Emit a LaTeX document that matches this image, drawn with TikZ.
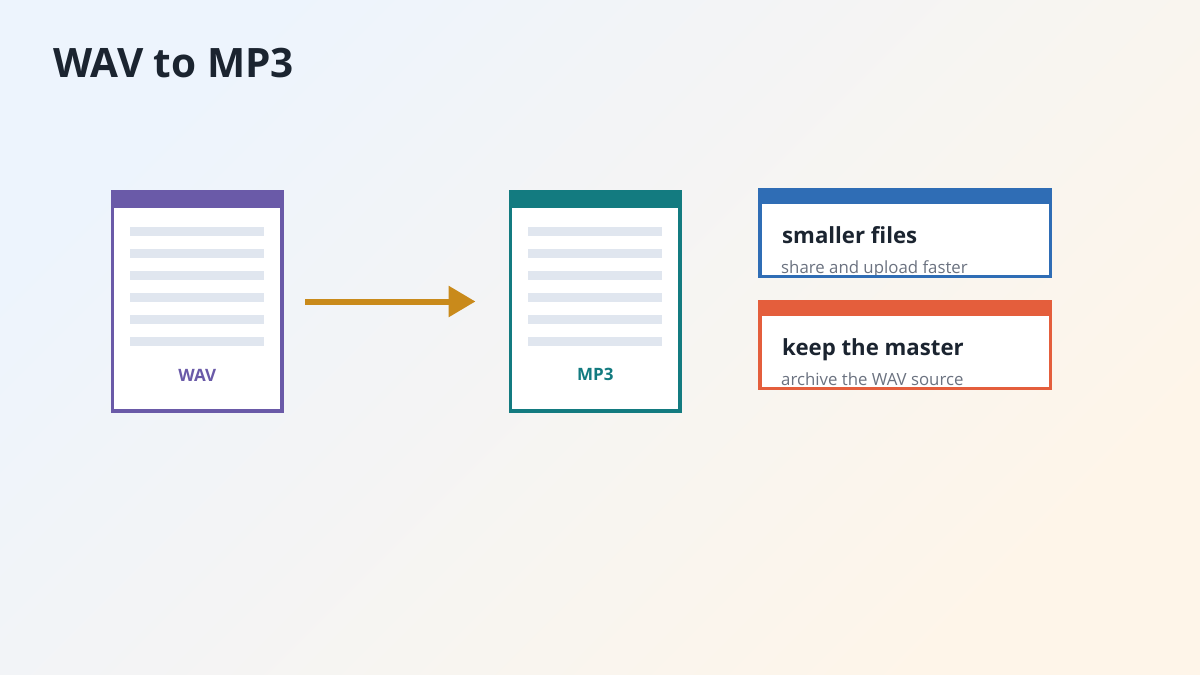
\documentclass[tikz,border=0pt]{standalone}
\usepackage{fontspec}
\setmainfont{Open Sans}
\usetikzlibrary{arrows.meta,calc}
\definecolor{bgA}{HTML}{EDF4FD}
\definecolor{bgM}{HTML}{F4F5F6}
\definecolor{bgB}{HTML}{FEF5E9}
\definecolor{wavc}{HTML}{6A5AA8}
\definecolor{mpc}{HTML}{137B80}
\definecolor{arrc}{HTML}{C98A1B}
\definecolor{bluec}{HTML}{2F6DB5}
\definecolor{orc}{HTML}{E45E3C}
\definecolor{txtd}{HTML}{1B2430}
\definecolor{txtg}{HTML}{6B7280}
\definecolor{linec}{HTML}{E0E6EF}
\tikzset{
  docbox/.style={draw=#1, line width=3.5pt, fill=white, minimum width=169.5pt, minimum height=219pt, inner sep=0pt, outer sep=0pt},
  cardbox/.style={fill=white, minimum width=290.5pt, minimum height=86.5pt, inner sep=0pt, outer sep=0pt},
  cardline/.style={draw=#1, line width=3.5pt},
  doclabel/.style={font=\bfseries\fontsize{17}{20}\selectfont, text=#1, anchor=base},
  cardtitle/.style={font=\bfseries\fontsize{22.2}{26}\selectfont, text=txtd, anchor=base west, inner sep=0pt},
  cardsub/.style={font=\fontsize{16.8}{19}\selectfont, text=txtg, anchor=base west, inner sep=0pt},
  arr/.style={draw=arrc, line width=6pt, -{Triangle[length=27pt,width=30pt]}}
}
\begin{document}
\begin{tikzpicture}[x=1pt,y=-1pt]
\useasboundingbox (0,0) rectangle (1200,675);
\shade[top color=bgA, middle color=bgM, bottom color=bgB, shading angle=45] (0,0) rectangle (1200,675);

\node[font=\bfseries\fontsize{40.5}{46}\selectfont, text=txtd, anchor=base west, inner sep=0pt] (title) at (53,77) {WAV to MP3};

% WAV document
\node[docbox=wavc] (wav) at (197.25,301.5) {};
\fill[wavc] (wav.north west) rectangle ($(wav.north east)+(0,16)$);
\foreach \i in {0,...,5}{
  \fill[linec] ($(wav.north west)+(17.5,34.5+22*\i)$) rectangle ($(wav.north west)+(151.5,43.5+22*\i)$);
}
\node[doclabel=wavc] (wavl) at (197.25,381) {WAV};

% MP3 document
\node[docbox=mpc] (mp3) at (595.25,301.5) {};
\fill[mpc] (mp3.north west) rectangle ($(mp3.north east)+(0,16)$);
\foreach \i in {0,...,5}{
  \fill[linec] ($(mp3.north west)+(17.5,34.5+22*\i)$) rectangle ($(mp3.north west)+(151.5,43.5+22*\i)$);
}
\node[doclabel=mpc] (mp3l) at (595.25,380) {MP3};

% arrow
\draw[arr, shorten <=23pt, shorten >=35pt] (wav) -- (mp3);

% card 1
\node[cardbox] (c1) at (905,233) {};
\node[cardtitle] (c1t) at (782,243.5) {smaller files};
\node[cardsub] (c1s) at (781,273.5) {share and upload faster};
\fill[bluec] (c1.north west) rectangle ($(c1.north east)+(0,14.25)$);
\draw[cardline=bluec] (c1.north west) rectangle (c1.south east);

% card 2
\node[cardbox] (c2) at (905,345) {};
\node[cardtitle] (c2t) at (782,355.5) {keep the master};
\node[cardsub] (c2s) at (781,385.5) {archive the WAV source};
\fill[orc] (c2.north west) rectangle ($(c2.north east)+(0,14.25)$);
\draw[cardline=orc] (c2.north west) rectangle (c2.south east);
\end{tikzpicture}
\end{document}
